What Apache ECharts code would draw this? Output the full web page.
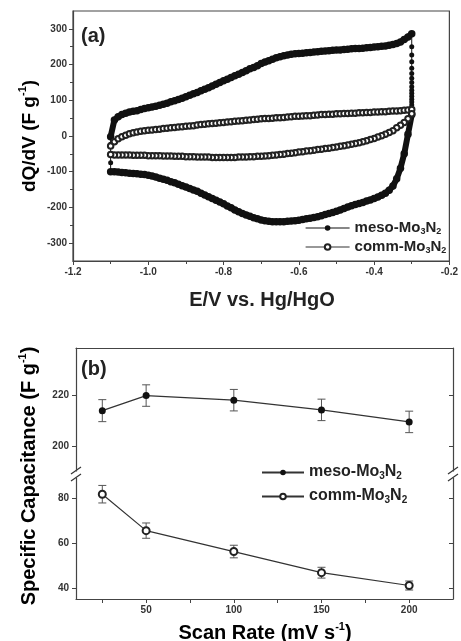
<!DOCTYPE html>
<html lang="en">
<head>
<meta charset="UTF-8">
<title>meso-Mo3N2 vs comm-Mo3N2</title>
<script src="https://cdn.jsdelivr.net/npm/echarts@6/dist/echarts.min.js"></script>
<style>
  html, body { margin: 0; padding: 0; background: #fff; }
  #main { width: 461px; height: 641px; }
</style>
</head>
<body>
<div id="main"></div>
<script>
// ---------- (a) cyclic voltammetry ----------
// potential grid (V vs Hg/HgO), shared by all branches
var potential = [
  -1.10, -1.09, -1.08, -1.07, -1.06, -1.05, -1.04, -1.03, -1.02, -1.01,
  -1.00, -0.99, -0.98, -0.97, -0.96, -0.95, -0.94, -0.93, -0.92, -0.91,
  -0.90, -0.89, -0.88, -0.87, -0.86, -0.85, -0.84, -0.83, -0.82, -0.81,
  -0.80, -0.79, -0.78, -0.77, -0.76, -0.75, -0.74, -0.73, -0.72, -0.71,
  -0.70, -0.69, -0.68, -0.67, -0.66, -0.65, -0.64, -0.63, -0.62, -0.61,
  -0.60, -0.59, -0.58, -0.57, -0.56, -0.55, -0.54, -0.53, -0.52, -0.51,
  -0.50, -0.49, -0.48, -0.47, -0.46, -0.45, -0.44, -0.43, -0.42, -0.41,
  -0.40, -0.39, -0.38, -0.37, -0.36, -0.35, -0.34, -0.33, -0.32, -0.31,
  -0.30
];
// dQ/dV (F/g)
var mesoUpper = [
  -2, 45, 54, 60, 64, 67, 69, 71, 74, 77,
  79, 81, 83, 86, 89, 92, 96, 99, 102, 106,
  110, 114, 118, 122, 127, 131, 135, 140, 145, 150,
  155, 159, 164, 169, 173, 178, 183, 188, 192, 197,
  203, 207, 211, 215, 219, 222, 225, 227, 229, 230,
  231, 232, 233, 234, 235, 236, 237, 238, 239, 240,
  241, 241, 242, 243, 244, 245, 245, 246, 247, 248,
  249, 250, 251, 252, 254, 256, 259, 263, 270, 277,
  286
];
var mesoLower = [
  -100, -100, -101, -102, -103, -104, -105, -106, -107, -108,
  -110, -112, -115, -118, -121, -124, -128, -131, -135, -139,
  -143, -147, -151, -155, -160, -165, -170, -175, -180, -185,
  -190, -196, -201, -207, -212, -217, -221, -225, -229, -232,
  -235, -237, -239, -240, -240, -240, -240, -239, -238, -237,
  -236, -234, -232, -230, -228, -226, -223, -220, -217, -214,
  -211, -207, -203, -199, -195, -192, -189, -186, -182, -179,
  -175, -171, -166, -160, -152, -140, -120, -90, -50, 5,
  60
];
// points on the vertical switching edges
var mesoDropAtEnd = [250, 227, 208, 190, 175, 162, 150, 138, 128, 120, 111, 103, 95, 87, 80, 73, 66];
var mesoRiseAtStart = [-75, -49, -23];
var commUpper = [
  -28, -16, -8, -2, 2, 6, 9, 11, 13, 15,
  16, 17, 18, 19, 21, 22, 23, 24, 25, 26,
  27, 28, 29, 31, 32, 33, 34, 35, 36, 37,
  38, 39, 40, 41, 42, 43, 44, 45, 46, 47,
  48, 49, 49, 50, 51, 51, 52, 53, 54, 55,
  55, 56, 57, 57, 58, 59, 60, 60, 61, 61,
  62, 62, 63, 63, 64, 64, 65, 65, 66, 66,
  67, 67, 68, 68, 69, 70, 70, 71, 72, 73,
  74
];
var commLower = [
  -52, -53, -53, -53, -53, -53, -54, -54, -54, -54,
  -55, -55, -55, -55, -56, -56, -56, -57, -57, -57,
  -58, -58, -58, -59, -59, -59, -59, -60, -60, -60,
  -60, -60, -60, -60, -59, -59, -59, -58, -58, -57,
  -57, -56, -55, -54, -53, -52, -51, -49, -48, -47,
  -45, -44, -42, -41, -40, -38, -37, -35, -34, -32,
  -31, -29, -27, -25, -23, -21, -19, -16, -13, -10,
  -7, -3, 1, 5, 10, 15, 23, 30, 38, 48,
  62
];
var cvYLabels = [-300, -200, -100, 0, 100, 200, 300];
var cvYMinor = [-250, -150, -50, 50, 150, 250];

// ---------- (b) specific capacitance vs scan rate ----------
var scanRate = [25, 50, 100, 150, 200];
var mesoCap = [214.1, 220.0, 218.2, 214.4, 209.7];
var mesoErr = [4.3, 4.2, 4.2, 4.2, 4.2];
var commCap = [81.8, 65.6, 56.3, 46.9, 41.2];
var commErr = [3.9, 3.4, 2.8, 2.4, 2.0];
var rateLabels = [50, 100, 150, 200];
var rateTicks = [25, 50, 75, 100, 125, 150, 175, 200];
var capUpperLabels = [200, 220];
var capLowerLabels = [40, 60, 80];

var LAST = potential.length - 1;
function branch(vals, reverse) {
  var pts = potential.map(function (e, i) { return [e, vals[i]]; });
  return reverse ? pts.reverse() : pts;
}
// the two vertical switching edges of the meso loop (thin line with dots)
var mesoDropEdge = [[potential[LAST], mesoUpper[LAST]]]
  .concat(mesoDropAtEnd.map(function (v) { return [potential[LAST], v]; }))
  .concat([[potential[LAST], mesoLower[LAST]]]);
var mesoRiseEdge = [[potential[0], mesoLower[0]]]
  .concat(mesoRiseAtStart.map(function (v) { return [potential[0], v]; }))
  .concat([[potential[0], mesoUpper[0]]]);
var commLoop = branch(commUpper).concat(branch(commLower, true));

function errRows(cap, err) {
  return scanRate.map(function (x, i) { return [x, cap[i] - err[i], cap[i] + err[i]]; });
}
function pairs(cap) {
  return scanRate.map(function (x, i) { return [x, cap[i]]; });
}

var FONT = 'Liberation Sans, Arial, Helvetica, sans-serif';
var AXIS = '#444';
var INK = '#111';
var tickText = { fontFamily: FONT, fontSize: 10, fontWeight: 'bold', color: '#333' };

function renderErr(params, api) {
  var x = api.value(0);
  var top = api.coord([x, api.value(2)]);
  var bot = api.coord([x, api.value(1)]);
  var w = 4;
  var st = { stroke: '#555', lineWidth: 1 };
  return {
    type: 'group',
    children: [
      { type: 'line', shape: { x1: top[0], y1: top[1], x2: bot[0], y2: bot[1] }, style: st },
      { type: 'line', shape: { x1: top[0] - w, y1: top[1], x2: top[0] + w, y2: top[1] }, style: st },
      { type: 'line', shape: { x1: bot[0] - w, y1: bot[1], x2: bot[0] + w, y2: bot[1] }, style: st }
    ]
  };
}

var subRich = {
  t: { fontFamily: FONT, fontSize: 15, fontWeight: 'bold', color: '#222', lineHeight: 16, verticalAlign: 'top' },
  s: { fontFamily: FONT, fontSize: 9, fontWeight: 'bold', color: '#222', lineHeight: 9, padding: [8, 0, 0, 0], verticalAlign: 'bottom' }
};
function legendName(n) {
  return n.indexOf('meso') === 0 ? '{t|meso-Mo}{s|3}{t|N}{s|2}' : '{t|comm-Mo}{s|3}{t|N}{s|2}';
}
var supRich = {
  t: { fontFamily: FONT, fontSize: 19, fontWeight: 'bold', color: '#222', lineHeight: 22, verticalAlign: 'bottom' },
  sup: { fontFamily: FONT, fontSize: 11, fontWeight: 'bold', color: '#222', lineHeight: 11, verticalAlign: 'top' }
};

var mesoBand = {
  type: 'line', xAxisIndex: 0, yAxisIndex: 0,
  symbol: 'circle', symbolSize: 7.5, showAllSymbol: true,
  itemStyle: { color: INK }, lineStyle: { color: INK, width: 6 }, z: 3
};
var mesoEdge = {
  type: 'line', xAxisIndex: 0, yAxisIndex: 0,
  symbol: 'circle', symbolSize: 5, showAllSymbol: true,
  itemStyle: { color: INK }, lineStyle: { color: INK, width: 1 }, z: 3
};

var chart = echarts.init(document.getElementById('main'));
var option = {
  animation: false,
  backgroundColor: '#fff',
  grid: [
    { left: 73, top: 11, width: 379, height: 250, show: true, borderColor: AXIS, borderWidth: 1.2 },
    { left: 76, top: 348, width: 377, height: 123 },
    { left: 76, top: 478, width: 377, height: 121 }
  ],
  xAxis: [
    {
      gridIndex: 0, type: 'value', min: -1.2, max: -0.2, interval: 0.2,
      axisLine: { onZero: false, lineStyle: { color: AXIS, width: 1.2 } },
      axisTick: { length: 4, lineStyle: { color: AXIS } },
      minorTick: { show: true, splitNumber: 2, length: 3, lineStyle: { color: AXIS } },
      splitLine: { show: false },
      axisLabel: Object.assign({ margin: 6, formatter: function (v) { return v.toFixed(1); } }, tickText)
    },
    {
      gridIndex: 1, type: 'value', min: 10, max: 225, position: 'top',
      axisLine: { onZero: false, lineStyle: { color: AXIS, width: 1.2 } },
      axisTick: { show: false }, axisLabel: { show: false }, splitLine: { show: false }
    },
    {
      gridIndex: 2, type: 'value', min: 10, max: 225, position: 'bottom',
      axisLine: { onZero: false, lineStyle: { color: AXIS, width: 1.2 } },
      axisTick: { length: 4, customValues: rateTicks, lineStyle: { color: AXIS } },
      splitLine: { show: false },
      axisLabel: Object.assign({ margin: 6, customValues: rateLabels }, tickText)
    }
  ],
  yAxis: [
    {
      gridIndex: 0, type: 'value', min: -350, max: 350, position: 'left',
      axisLine: { show: true, onZero: false, lineStyle: { color: AXIS, width: 1.2 } },
      axisTick: { show: true, length: 4, customValues: cvYLabels, lineStyle: { color: AXIS } },
      splitLine: { show: false },
      axisLabel: Object.assign({ margin: 6, customValues: cvYLabels }, tickText)
    },
    {
      gridIndex: 0, type: 'value', min: -350, max: 350, position: 'left',
      axisLine: { show: false, onZero: false },
      axisTick: { show: true, length: 3, customValues: cvYMinor, lineStyle: { color: AXIS } },
      splitLine: { show: false }, axisLabel: { show: false }
    },
    {
      gridIndex: 1, type: 'value', min: 190.5, max: 238.6, position: 'left',
      axisLine: { show: true, onZero: false, lineStyle: { color: AXIS, width: 1.2 } },
      axisTick: { show: true, length: 4, customValues: capUpperLabels, lineStyle: { color: AXIS } },
      splitLine: { show: false },
      axisLabel: Object.assign({ margin: 7, customValues: capUpperLabels }, tickText)
    },
    {
      gridIndex: 1, type: 'value', min: 190.5, max: 238.6, position: 'right',
      axisLine: { show: true, onZero: false, lineStyle: { color: AXIS, width: 1.2 } },
      axisTick: { show: true, inside: true, length: 4, customValues: capUpperLabels, lineStyle: { color: AXIS } },
      splitLine: { show: false }, axisLabel: { show: false }
    },
    {
      gridIndex: 2, type: 'value', min: 35.2, max: 89, position: 'left',
      axisLine: { show: true, onZero: false, lineStyle: { color: AXIS, width: 1.2 } },
      axisTick: { show: true, length: 4, customValues: capLowerLabels, lineStyle: { color: AXIS } },
      splitLine: { show: false },
      axisLabel: Object.assign({ margin: 7, customValues: capLowerLabels }, tickText)
    },
    {
      gridIndex: 2, type: 'value', min: 35.2, max: 89, position: 'right',
      axisLine: { show: true, onZero: false, lineStyle: { color: AXIS, width: 1.2 } },
      axisTick: { show: true, inside: true, length: 4, customValues: capLowerLabels, lineStyle: { color: AXIS } },
      splitLine: { show: false }, axisLabel: { show: false }
    }
  ],
  legend: [
    {
      data: ['meso-a', 'comm-a'], orient: 'vertical', left: 305, top: 219,
      itemWidth: 44, itemHeight: 7, itemGap: 2, padding: 0,
      lineStyle: { width: 1.2 },
      formatter: legendName, textStyle: { rich: subRich }
    },
    {
      data: ['meso-b', 'comm-b'], orient: 'vertical', left: 261, top: 463,
      itemWidth: 42, itemHeight: 7, itemGap: 6, padding: 0,
      formatter: legendName,
      textStyle: { rich: {
        t: Object.assign({}, subRich.t, { fontSize: 16, lineHeight: 17 }),
        s: Object.assign({}, subRich.s, { fontSize: 10, lineHeight: 10 })
      } }
    }
  ],
  series: [
    Object.assign({ name: 'meso-a', data: branch(mesoUpper) }, mesoBand),
    Object.assign({ name: 'meso-a', data: branch(mesoLower, true) }, mesoBand),
    Object.assign({ name: 'meso-edge', data: mesoDropEdge }, mesoEdge),
    Object.assign({ name: 'meso-edge', data: mesoRiseEdge }, mesoEdge),
    {
      name: 'comm-a', type: 'line', xAxisIndex: 0, yAxisIndex: 0, data: commLoop,
      symbol: 'emptyCircle', symbolSize: 5.5, showAllSymbol: true,
      itemStyle: { color: '#222', borderWidth: 1 }, lineStyle: { color: '#333', width: 0.8 }, z: 4
    },
    {
      type: 'custom', xAxisIndex: 1, yAxisIndex: 2, data: errRows(mesoCap, mesoErr),
      renderItem: renderErr, z: 2, silent: true
    },
    {
      type: 'custom', xAxisIndex: 2, yAxisIndex: 4, data: errRows(commCap, commErr),
      renderItem: renderErr, z: 2, silent: true
    },
    {
      name: 'meso-b', type: 'line', xAxisIndex: 1, yAxisIndex: 2, data: pairs(mesoCap),
      symbol: 'circle', symbolSize: 7,
      itemStyle: { color: INK }, lineStyle: { color: '#333', width: 1.2 }, z: 3
    },
    {
      name: 'comm-b', type: 'line', xAxisIndex: 2, yAxisIndex: 4, data: pairs(commCap),
      symbol: 'emptyCircle', symbolSize: 7,
      itemStyle: { color: '#222', borderWidth: 1 }, lineStyle: { color: '#333', width: 1.2 }, z: 3
    }
  ],
  graphic: [
    { type: 'text', left: 81, top: 26, style: { text: '(a)', font: 'bold 20px ' + FONT, fill: '#222' } },
    { type: 'text', left: 81, top: 359, style: { text: '(b)', font: 'bold 20px ' + FONT, fill: '#222' } },
    {
      type: 'text', x: 262, y: 300,
      style: { text: 'E/V vs. Hg/HgO', font: 'bold 20px ' + FONT, fill: '#222', align: 'center', verticalAlign: 'middle' }
    },
    {
      type: 'text', x: 265, y: 632,
      style: {
        text: '{t|Scan Rate (mV s}{sup|-1}{t|)}', align: 'center', verticalAlign: 'middle',
        rich: { t: Object.assign({}, supRich.t, { fontSize: 20 }), sup: supRich.sup }
      }
    },
    {
      type: 'text', x: 28, y: 136, rotation: Math.PI / 2,
      style: { text: '{t|dQ/dV (F g}{sup|-1}{t|)}', align: 'center', verticalAlign: 'middle', rich: supRich }
    },
    {
      type: 'text', x: 28, y: 476, rotation: Math.PI / 2,
      style: {
        text: '{t|Specific Capacitance (F g}{sup|-1}{t|)}', align: 'center', verticalAlign: 'middle',
        rich: { t: Object.assign({}, supRich.t, { fontSize: 20 }), sup: supRich.sup }
      }
    },
    // axis break marks
    { type: 'line', shape: { x1: 71, y1: 474, x2: 81, y2: 467 }, style: { stroke: '#333', lineWidth: 1.2 } },
    { type: 'line', shape: { x1: 71, y1: 481, x2: 81, y2: 474 }, style: { stroke: '#333', lineWidth: 1.2 } },
    { type: 'line', shape: { x1: 448, y1: 474, x2: 458, y2: 467 }, style: { stroke: '#333', lineWidth: 1.2 } },
    { type: 'line', shape: { x1: 448, y1: 481, x2: 458, y2: 474 }, style: { stroke: '#333', lineWidth: 1.2 } }
  ]
};
chart.setOption(option);
</script>
</body>
</html>
